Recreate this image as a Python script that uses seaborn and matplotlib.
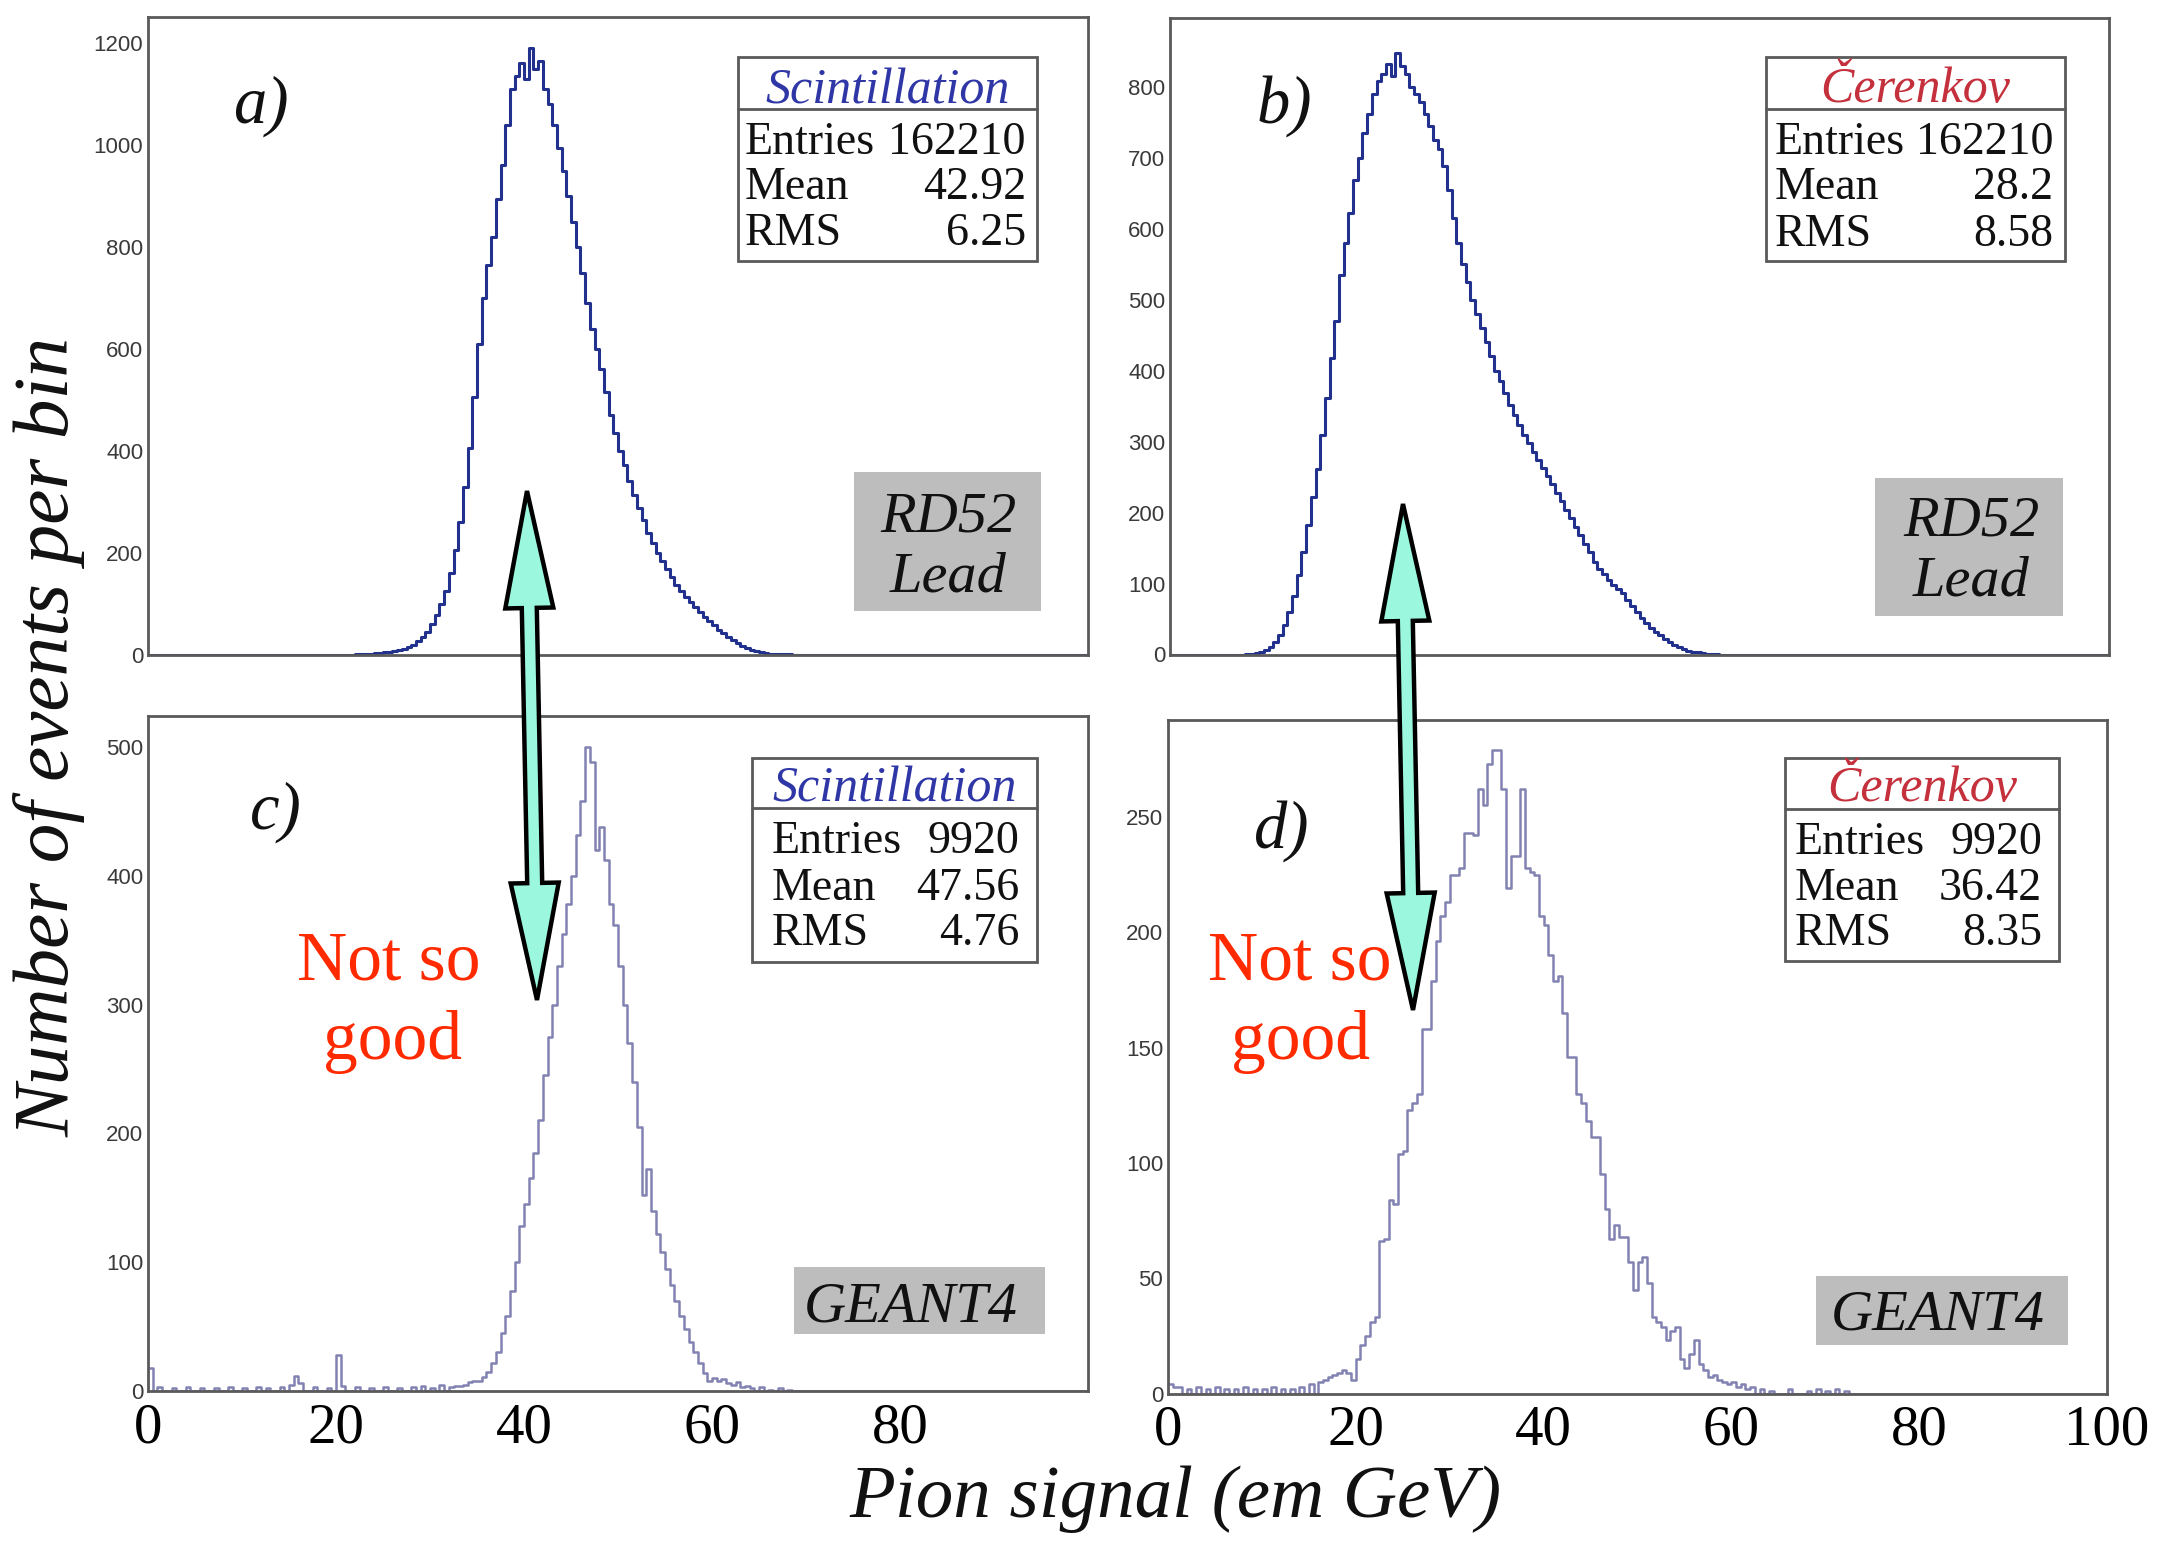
import numpy as np
import pandas as pd
import matplotlib
matplotlib.use("Agg")
import matplotlib.pyplot as plt
from matplotlib.patches import Rectangle, Polygon
from matplotlib.ticker import MultipleLocator, FuncFormatter
import seaborn as sns

# ------------------------------------------------------------------
# Pion signal distributions, counts per 0.5 GeV bin
# ------------------------------------------------------------------
BIN = 0.5

# a) RD52 lead, scintillation
a_start = 22.0
a_counts = [1, 1, 2, 2, 3, 4, 5, 6, 8, 10, 12, 15, 20, 27, 35, 45, 60, 78, 100, 125,
            160, 205, 260, 330, 405, 505, 610, 700, 765, 820, 895, 960, 1040, 1110,
            1135, 1160, 1130, 1190, 1150, 1165, 1110, 1080, 1040, 995, 950, 900, 850,
            800, 750, 690, 640, 600, 560, 515, 470, 435, 400, 372, 342, 314, 288, 264,
            240, 220, 200, 184, 168, 152, 138, 125, 114, 104, 94, 84, 75, 66, 58, 50,
            43, 36, 30, 24, 18, 13, 10, 7, 5, 3, 2, 2, 1, 1, 1]

# b) RD52 lead, Cerenkov
b_start = 8.0
b_counts = [1, 1, 2, 4, 7, 11, 18, 28, 42, 60, 82, 112, 145, 182, 222, 262, 310, 362,
            418, 470, 535, 580, 622, 668, 700, 735, 762, 790, 808, 818, 832, 815, 848,
            830, 818, 800, 790, 778, 762, 745, 725, 712, 688, 655, 615, 580, 550, 525,
            500, 480, 460, 440, 420, 400, 385, 368, 352, 338, 324, 310, 298, 286, 274,
            263, 252, 240, 228, 216, 204, 192, 180, 168, 156, 144, 131, 121, 113, 105,
            98, 92, 86, 77, 68, 60, 52, 45, 38, 32, 27, 22, 17, 13, 10, 8, 5, 4, 3, 2,
            1, 1, 1]

# c) GEANT4, scintillation
c_start = 33.0
c_counts = [4, 5, 7, 8, 8, 11, 15, 22, 30, 45, 58, 78, 100, 128, 145, 165, 185, 210,
            245, 275, 300, 330, 355, 378, 400, 432, 458, 500, 488, 420, 438, 412, 378,
            362, 330, 300, 270, 240, 205, 152, 172, 140, 122, 108, 95, 82, 70, 58, 48,
            38, 30, 22, 14, 8, 10, 8, 9, 6, 5, 7, 3]
c_tail_x = [0.25, 1.25, 2.75, 4.25, 5.75, 7.25, 8.75, 10.25, 11.75, 12.75, 14.25,
            15.25, 15.75, 16.25, 17.75, 19.25, 20.25, 20.75, 22.25, 23.75, 25.25,
            26.75, 28.25, 29.25, 30.25, 31.25, 32.25, 32.75, 63.75, 64.25, 65.25,
            66.25, 67.25, 68.25]
c_tail_n = [18, 3, 2, 3, 2, 2, 3, 2, 3, 2, 3, 5, 12, 6, 3, 2, 28, 4, 3, 2, 3, 2, 3, 4,
            2, 5, 3, 4, 4, 2, 3, 1, 2, 1]

# d) GEANT4, Cerenkov
d_start = 17.5
d_counts = [8, 9, 10, 9, 6, 15, 21, 25, 31, 33, 66, 67, 84, 82, 104, 105, 123, 126,
            130, 158, 158, 179, 196, 207, 213, 225, 225, 228, 243, 243, 242, 262, 255,
            273, 279, 279, 262, 219, 233, 233, 262, 228, 226, 225, 207, 203, 190, 179,
            181, 165, 146, 146, 130, 126, 118, 111, 111, 95, 80, 67, 73, 68, 68, 57,
            45, 57, 59, 48, 33, 31, 29, 23, 27, 29, 15, 11, 17, 23, 13, 10, 7, 8, 6, 5,
            4, 5, 3, 4, 2, 3]
d_tail_x = [0.25, 0.75, 1.25, 2.25, 3.25, 4.25, 5.25, 6.25, 7.25, 8.25, 9.25, 10.25,
            11.25, 12.25, 13.25, 14.25, 15.25, 16.25, 16.75, 17.25, 63.25, 64.25,
            66.25, 68.25, 69.25, 70.25, 71.25, 72.25]
d_tail_n = [4, 3, 3, 2, 3, 2, 3, 2, 2, 3, 2, 2, 3, 2, 2, 3, 4, 5, 6, 7, 2, 1, 2, 1, 2,
            1, 2, 1]

# statistics boxes and labels
panel_letters = ["a)", "b)", "c)", "d)"]
stat_titles = ["Scintillation", "\u010cerenkov", "Scintillation", "\u010cerenkov"]
stat_entries = ["162210", "162210", "9920", "9920"]
stat_means = ["42.92", "28.2", "47.56", "36.42"]
stat_rms = ["6.25", "8.58", "4.76", "8.35"]
tag_lines = [["RD52", "Lead"], ["RD52", "Lead"], ["GEANT4"], ["GEANT4"]]
y_limits = [1251, 897, 524, 292]
y_major = [200, 100, 100, 50]
y_minor = [50, 20, 20, 10]
note_lines = ["Not so", "good"]
x_title = "Pion signal (em GeV)"
y_title = "Number of events per bin"


def hist_frame(start, counts, tail_x=(), tail_n=()):
    centers = start + BIN / 2 + BIN * np.arange(len(counts))
    x = np.concatenate([centers, np.asarray(tail_x, float)])
    w = np.concatenate([np.asarray(counts, float), np.asarray(tail_n, float)])
    return pd.DataFrame({"signal": x, "events": w})


frames = [hist_frame(a_start, a_counts),
          hist_frame(b_start, b_counts),
          hist_frame(c_start, c_counts, c_tail_x, c_tail_n),
          hist_frame(d_start, d_counts, d_tail_x, d_tail_n)]

# ------------------------------------------------------------------
# styling
# ------------------------------------------------------------------
sns.set_style("white")
SERIF = ["Liberation Serif", "DejaVu Serif"]
SANS = ["Liberation Sans", "DejaVu Sans"]
plt.rcParams["font.family"] = SERIF

W, H = 2159, 1543
fig = plt.figure(figsize=(W / 100, H / 100), dpi=100)
fig.patch.set_facecolor("white")


def fx(x):
    return x / W


def fy(y):
    return 1 - y / H


# axes frames in pixel coordinates: (left, top, right, bottom)
frames_px = [(148, 17, 1088, 655), (1170, 18, 2109, 654.5),
             (148, 716, 1088, 1391), (1168, 720, 2107, 1393.5)]
line_colors = ["#22308e", "#22308e", "#8282b2", "#8282b2"]
line_widths = [2.2, 2.2, 1.8, 1.8]
FRAME = "#5a5a5a"

edges = [float(e) for e in np.arange(0, 100 + BIN, BIN)]
axes = []
for i, (x0, y0, x1, y1) in enumerate(frames_px):
    ax = fig.add_axes([fx(x0), fy(y1), (x1 - x0) / W, (y1 - y0) / H])
    axes.append(ax)
    sns.histplot(data=frames[i], x="signal", weights="events", bins=edges,
                 element="step", fill=False, color=line_colors[i],
                 linewidth=line_widths[i], ax=ax)
    ax.set_xlim(0, 100)
    ax.set_ylim(0, y_limits[i])
    ax.set_xlabel("")
    ax.set_ylabel("")
    for s in ax.spines.values():
        s.set_color(FRAME)
        s.set_linewidth(2)
    ax.yaxis.set_major_locator(MultipleLocator(y_major[i]))
    ax.yaxis.set_minor_locator(MultipleLocator(y_minor[i]))
    ax.tick_params(axis="y", which="major", direction="in", length=18.5,
                   width=1.5, color=FRAME, pad=3.5, labelsize=16,
                   labelcolor="#3a3a3a", labelfontfamily=SANS)
    ax.tick_params(axis="y", which="minor", direction="in", length=9,
                   width=1.3, color=FRAME)
    if i < 2:
        ax.xaxis.set_major_locator(MultipleLocator(20))
        ax.xaxis.set_minor_locator(MultipleLocator(5))
        ax.tick_params(axis="x", which="major", direction="in", length=15,
                       width=1.5, color=FRAME, labelbottom=False)
        ax.tick_params(axis="x", which="minor", direction="in", length=7.5,
                       width=1.3, color=FRAME)
    else:
        top_label = 100 if i == 3 else 80
        ax.xaxis.set_major_locator(MultipleLocator(10))
        ax.xaxis.set_minor_locator(MultipleLocator(2))
        ax.xaxis.set_major_formatter(FuncFormatter(
            lambda v, p, t=top_label: f"{v:.0f}" if (round(v) % 20 == 0 and v <= t + 0.1) else ""))
        ax.tick_params(axis="x", which="major", direction="in", length=15,
                       width=1.5, color=FRAME, pad=8, labelsize=41,
                       labelcolor="black", labelfontfamily=SERIF)
        ax.tick_params(axis="x", which="minor", direction="in", length=7.5,
                       width=1.3, color=FRAME)

# ------------------------------------------------------------------
# statistics boxes
# ------------------------------------------------------------------
box_px = [(738, 57, 1037, 261, 108.5), (1766, 57, 2065, 261, 108.5),
          (752, 758, 1037, 962, 807.5), (1785, 758, 2059, 961, 809)]
title_base = [103.6, 101.8, 801, 801]
row_base = [[154, 198.7, 244.6], [154, 198.7, 245.5],
            [853, 900, 944.6], [854, 900, 944.6]]
text_x = [(745, 1026), (1775, 2053), (772, 1019), (1795, 2042)]
title_colors = ["#2f36a6", "#c4303c", "#2f36a6", "#c4303c"]

for i in range(4):
    x0, y0, x1, y1, yd = box_px[i]
    fig.add_artist(Rectangle((fx(x0), fy(y1)), (x1 - x0) / W, (y1 - y0) / H,
                             transform=fig.transFigure, facecolor="white",
                             edgecolor=FRAME, linewidth=2, zorder=5))
    fig.add_artist(plt.Line2D([fx(x0), fx(x1)], [fy(yd), fy(yd)],
                              transform=fig.transFigure, color=FRAME,
                              linewidth=2, zorder=6))
    fig.text(fx((x0 + x1) / 2), fy(title_base[i]), stat_titles[i],
             ha="center", va="baseline", fontsize=36, style="italic",
             family=SERIF, color=title_colors[i], zorder=7)
    names = ["Entries", "Mean", "RMS"]
    vals = [stat_entries[i], stat_means[i], stat_rms[i]]
    for r in range(3):
        fig.text(fx(text_x[i][0]), fy(row_base[i][r]), names[r], ha="left",
                 va="baseline", fontsize=33, family=SERIF, color="#111111",
                 zorder=7)
        fig.text(fx(text_x[i][1]), fy(row_base[i][r]), vals[r], ha="right",
                 va="baseline", fontsize=33, family=SERIF, color="#111111",
                 zorder=7)

# grey detector / simulation tags
tag_px = [(854, 472, 1041, 611), (1875, 478, 2063, 616),
          (794, 1267, 1045, 1334), (1816, 1276, 2068, 1345)]
tag_x = [948, 1971, 911, 1938]
tag_base = [[531, 591.5], [535.7, 596], [1321], [1330]]
for i in range(4):
    x0, y0, x1, y1 = tag_px[i]
    fig.add_artist(Rectangle((fx(x0), fy(y1)), (x1 - x0) / W, (y1 - y0) / H,
                             transform=fig.transFigure, facecolor="#bdbdbd",
                             edgecolor="none", zorder=5))
    for line, yb in zip(tag_lines[i], tag_base[i]):
        fig.text(fx(tag_x[i]), fy(yb), line, ha="center", va="baseline",
                 fontsize=42, style="italic", family=SERIF, color="#111111",
                 zorder=7)

# panel letters
letter_pos = [(233, 122.8), (1257, 122.8), (250, 829), (1254, 847.8)]
for i in range(4):
    fig.text(fx(letter_pos[i][0]), fy(letter_pos[i][1]), panel_letters[i],
             ha="left", va="baseline", fontsize=48, style="italic",
             family=SERIF, color="#111111", zorder=7)

# comment in red next to the simulated peaks
note_pos = [[(389, 979.6), (392, 1059)], [(1299.5, 979.6), (1301, 1059)]]
for pos in note_pos:
    for line, (xx, yb) in zip(note_lines, pos):
        fig.text(fx(xx), fy(yb), line, ha="center", va="baseline",
                 fontsize=50, family=SERIF, color="#ff2a00", zorder=8)


# double-headed block arrows linking measured and simulated peaks
def block_arrow(p_top, p_bot, head_len=117, head_w=48, shaft_w=15):
    p_top = np.array(p_top, float)
    p_bot = np.array(p_bot, float)
    d = p_bot - p_top
    u = d / np.hypot(*d)
    n = np.array([-u[1], u[0]])
    h1 = p_top + u * head_len
    h2 = p_bot - u * head_len
    pts = [p_top,
           h1 + n * head_w / 2, h1 + n * shaft_w / 2,
           h2 + n * shaft_w / 2, h2 + n * head_w / 2,
           p_bot,
           h2 - n * head_w / 2, h2 - n * shaft_w / 2,
           h1 - n * shaft_w / 2, h1 - n * head_w / 2]
    pts = [(fx(p[0]), fy(p[1])) for p in pts]
    fig.add_artist(Polygon(pts, closed=True, transform=fig.transFigure,
                           facecolor="#9cf7df", edgecolor="black",
                           linewidth=3.2, joinstyle="miter", zorder=9))


block_arrow((527, 491), (537, 1000))
block_arrow((1403, 504), (1413, 1010))

# axis titles
fig.text(fx(1175.5), fy(1517), x_title, ha="center", va="baseline",
         fontsize=54, style="italic", family=SERIF, color="#111111")
fig.text(fx(50), fy(737), y_title, ha="center", va="center", rotation=90,
         fontsize=57, style="italic", family=SERIF, color="#111111")

fig.savefig("out.png", dpi=100, facecolor="white")
